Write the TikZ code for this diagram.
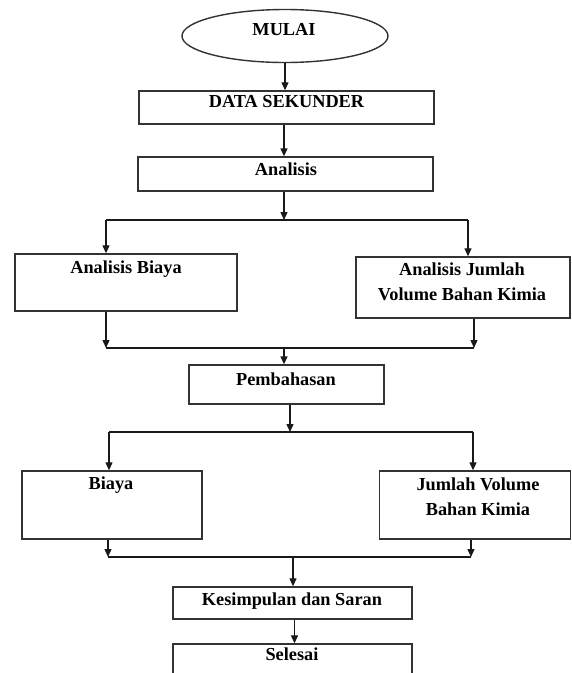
\documentclass[tikz,border=0pt]{standalone}
\usepackage{fontspec}
\setmainfont{Liberation Serif}
\usetikzlibrary{arrows.meta,shapes.geometric}
\begin{document}
\begin{tikzpicture}[x=1pt,y=-1pt,
  box/.style={draw=black!80, rectangle, inner sep=0pt, line width=1.4pt},
  oval/.style={draw=black!80, ellipse, inner sep=0pt, line width=1.4pt},
  lbl/.style={inner sep=0pt, anchor=base, font=\fontsize{18.3}{25}\selectfont\bfseries},
  arr/.style={draw=black!90, line width=1.3pt, -{Triangle[length=8pt,width=7pt]}},
  ln/.style={draw=black!90, line width=1.3pt}]
\fill[white] (0,0) rectangle (572,673);
\useasboundingbox (0,0) rectangle (572,673);
\clip (0,0) rectangle (572,673);

% shapes
\node[oval, minimum width=206, minimum height=53] (mulai) at (285,36) {};
\node[box, minimum width=295, minimum height=33] (data) at (286.5,107.5) {};
\node[box, minimum width=295, minimum height=34] (anl) at (285.5,174) {};
\node[box, minimum width=222, minimum height=57] (ab) at (126,282.5) {};
\node[box, minimum width=214, minimum height=61] (aj) at (463,287.5) {};
\node[box, minimum width=195, minimum height=39] (pemb) at (286.5,384.5) {};
\node[box, minimum width=180, minimum height=68] (by) at (112,505) {};
\node[box, minimum width=191, minimum height=68] (jv) at (475,505) {};
\node[box, minimum width=239, minimum height=32] (kes) at (292.5,603) {};
\node[box, minimum width=239, minimum height=56] (sel) at (292.5,672) {};

% labels
\node[lbl] (t0) at (284,35) {MULAI};
\node[lbl] (t1) at (286.5,107) {DATA SEKUNDER};
\node[lbl] (t2) at (286,175) {Analisis};
\node[lbl] (t3) at (126,273) {Analisis Biaya};
\node[lbl] (t4) at (462,275) {\begin{tabular}[t]{@{}c@{}}Analisis Jumlah\\Volume Bahan Kimia\end{tabular}};
\node[lbl] (t5) at (286,385.5) {Pembahasan};
\node[lbl] (t6) at (111,489) {Biaya};
\node[lbl] (t7) at (478,490.5) {\begin{tabular}[t]{@{}c@{}}Jumlah Volume\\Bahan Kimia\end{tabular}};
\node[lbl] (t8) at (292,605) {Kesimpulan dan Saran};
\node[lbl] (t9) at (292,660) {Selesai};

% split and merge points
\coordinate (s1) at (284,220);
\coordinate (s1l) at (106,220);
\coordinate (s1r) at (468,220);
\coordinate (m1l) at (106,348);
\coordinate (m1r) at (474,348);
\coordinate (m1) at (284,348);
\coordinate (s2) at (290,432);
\coordinate (s2l) at (109,432);
\coordinate (s2r) at (473,432);
\coordinate (m2l) at (108,557);
\coordinate (m2r) at (471,557);
\coordinate (m2) at (293,557);

% connectors
\draw[arr] (mulai.south) -- (mulai.south |- data.north);
\draw[arr] (data.south -| s1) -- (s1 |- anl.north);
\draw[arr] (anl.south -| s1) -- (s1);
\draw[ln] (s1l) -- (s1r);
\draw[arr] (s1l) -- (s1l |- ab.north);
\draw[arr] (s1r) -- (s1r |- aj.north);
\draw[arr] (ab.south -| m1l) -- (m1l);
\draw[arr] (aj.south -| m1r) -- (m1r);
\draw[ln] (m1l) -- (m1r);
\draw[arr] (m1) -- (m1 |- pemb.north);
\draw[arr] (pemb.south -| s2) -- (s2);
\draw[ln] (s2l) -- (s2r);
\draw[arr] (s2l) -- (s2l |- by.north);
\draw[arr] (s2r) -- (s2r |- jv.north);
\draw[arr] (by.south -| m2l) -- (m2l);
\draw[arr] (jv.south -| m2r) -- (m2r);
\draw[ln] (m2l) -- (m2r);
\draw[arr] (m2) -- (m2 |- kes.north);
\draw[arr] ([xshift=2pt]kes.south) -- ([xshift=2pt]kes.south |- sel.north);
\end{tikzpicture}
\end{document}
